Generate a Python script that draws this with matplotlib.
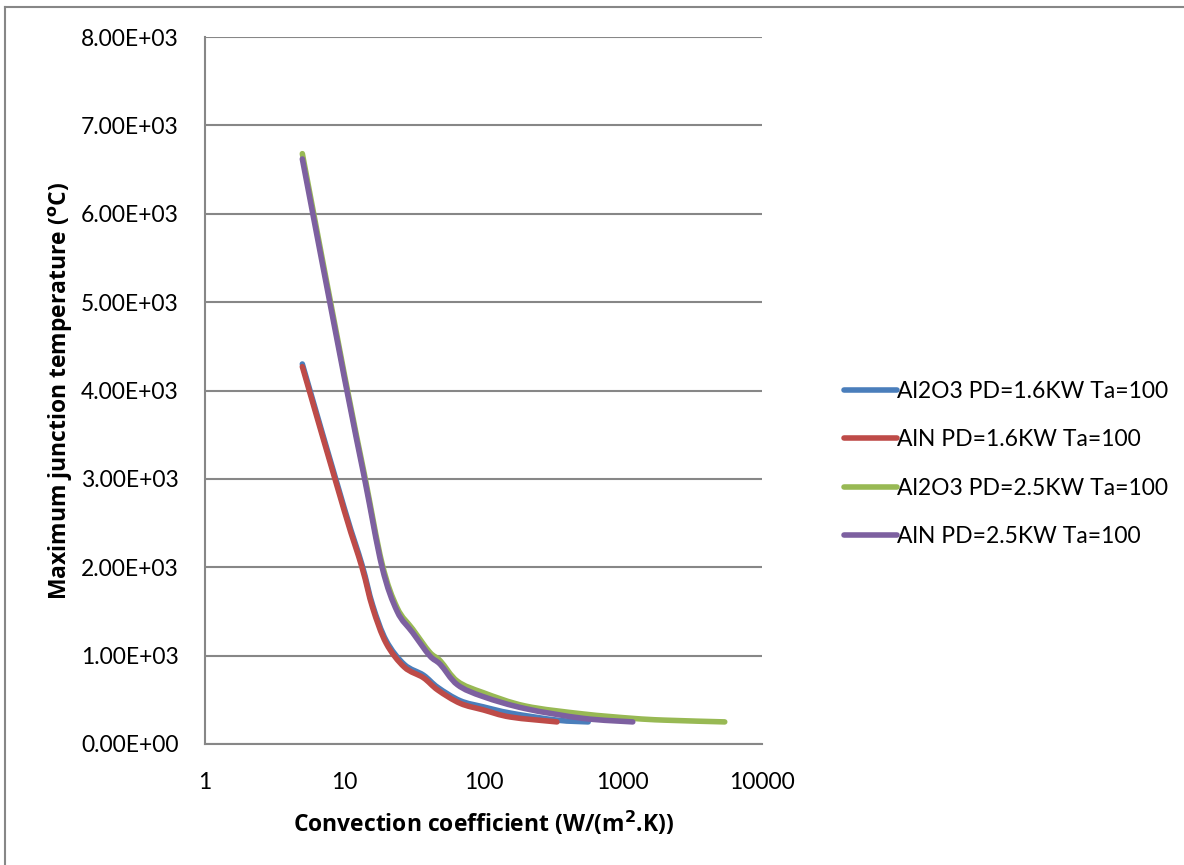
# %% Imports

import numpy as np
import matplotlib.pyplot as plt
import matplotlib.lines as mlines
from matplotlib.path import Path
from matplotlib.patches import PathPatch
from matplotlib.ticker import FixedLocator, FuncFormatter

plt.rcParams['font.family'] = ['Lato', 'DejaVu Sans']

# %% Data: max junction temperature vs convection coefficient

# Al2O3, PD = 1.6 kW
h_al2o3_16 = [5, 10, 13.4, 16, 20, 27, 37, 47, 68, 100, 156, 337, 565]
t_al2o3_16 = [4300, 2670, 2030, 1570, 1170, 900, 780, 640, 490, 420, 350, 270, 250]

# AlN, PD = 1.6 kW
h_aln_16 = [5, 10, 13.4, 16, 20, 27, 37, 47, 68, 100, 156, 337]
t_aln_16 = [4270, 2640, 2000, 1540, 1140, 870, 750, 610, 460, 385, 305, 250]

# Al2O3, PD = 2.5 kW
h_al2o3_25 = [5, 10, 14, 18.7, 24, 31, 41, 49, 65, 100, 200, 520, 1180, 2000, 5400]
t_al2o3_25 = [6680, 4190, 3040, 2040, 1540, 1300, 1040, 940, 710, 580, 430, 340, 290, 270, 250]

# AlN, PD = 2.5 kW
h_aln_25 = [5, 10, 14, 18.7, 24, 31, 41, 49, 65, 100, 200, 520, 1180]
t_aln_25 = [6620, 4150, 3000, 2000, 1500, 1260, 1000, 900, 670, 535, 400, 290, 250]

labels = ['Al2O3 PD=1.6KW Ta=100', 'AlN PD=1.6KW Ta=100',
          'Al2O3 PD=2.5KW Ta=100', 'AlN PD=2.5KW Ta=100']
colors = ['#4a7ebb', '#be4b48', '#98b954', '#7d60a0']


def smooth_line(ax, h, t, **kw):
    # Catmull-Rom style bezier through the points, built in log10(h) space
    pts = np.column_stack([np.log10(h), np.asarray(t, float)])
    n = len(pts)
    verts = [pts[0]]
    codes = [Path.MOVETO]
    for i in range(n - 1):
        p0, p1 = pts[max(i - 1, 0)], pts[i]
        p2, p3 = pts[i + 1], pts[min(i + 2, n - 1)]
        verts += [p1 + (p2 - p0) / 6, p2 - (p3 - p1) / 6, p2]
        codes += [Path.CURVE4] * 3
    verts = np.array(verts)
    verts[:, 0] = 10 ** verts[:, 0]
    patch = PathPatch(Path(verts, codes), fill=False, capstyle='round', joinstyle='round', **kw)
    ax.add_patch(patch)
    return patch


# %% Plot

fig = plt.figure(figsize=(11.84, 8.65), dpi=100)
ax = fig.add_axes([205/1184, 1 - 744/865, 557/1184, 707/865])

series = [(h_al2o3_16, t_al2o3_16), (h_aln_16, t_aln_16),
          (h_al2o3_25, t_al2o3_25), (h_aln_25, t_aln_25)]
for (h, t), c in zip(series, colors):
    smooth_line(ax, h, t, edgecolor=c, lw=4)

ax.set_xscale('log')
ax.set_xlim(1, 10000)
ax.set_ylim(0, 8000)
ax.xaxis.set_major_locator(FixedLocator([1, 10, 100, 1000, 10000]))
ax.xaxis.set_minor_locator(FixedLocator([]))
ax.xaxis.set_major_formatter(FuncFormatter(lambda v, p: '%d' % v))
ax.set_yticks(np.arange(0, 8001, 1000))
ax.yaxis.set_major_formatter(FuncFormatter(lambda v, p: '%.2E' % v))

ax.grid(axis='y', color='#878787', lw=1.5)
ax.set_axisbelow(True)
for s in ['top', 'right']:
    ax.spines[s].set_visible(False)
for s in ['left', 'bottom']:
    ax.spines[s].set_color('#878787')
    ax.spines[s].set_linewidth(1.5)
ax.tick_params(axis='both', length=0, labelsize=16.5)
ax.tick_params(axis='y', pad=19)
ax.tick_params(axis='x', pad=20)

lab_font = dict(family=['Open Sans', 'DejaVu Sans'], fontsize=16.5, fontweight='bold')
ax.set_xlabel('Convection coefficient (W/(m$^{\\mathbf{2}}$.K))', labelpad=12, **lab_font)
ax.set_ylabel('Maximum junction temperature ($^{\\mathbf{o}}$C)', labelpad=4, **lab_font)

handles = [mlines.Line2D([], [], color=c, lw=4, solid_capstyle='round') for c in colors]
leg = fig.legend(handles, labels, loc='center left', bbox_to_anchor=(833/1184, 1 - 464/865),
                 frameon=False, fontsize=16.5, handlelength=2.3, handletextpad=0.0,
                 labelspacing=1.2, borderpad=0)

# outer chart border (left and top edges)
fig.add_artist(mlines.Line2D([5/1184, 5/1184], [0, 1 - 7/865], transform=fig.transFigure, color='#878787', lw=1.5))
fig.add_artist(mlines.Line2D([5/1184, 1], [1 - 7/865, 1 - 7/865], transform=fig.transFigure, color='#878787', lw=1.5))

plt.savefig('out.png', dpi=100)
